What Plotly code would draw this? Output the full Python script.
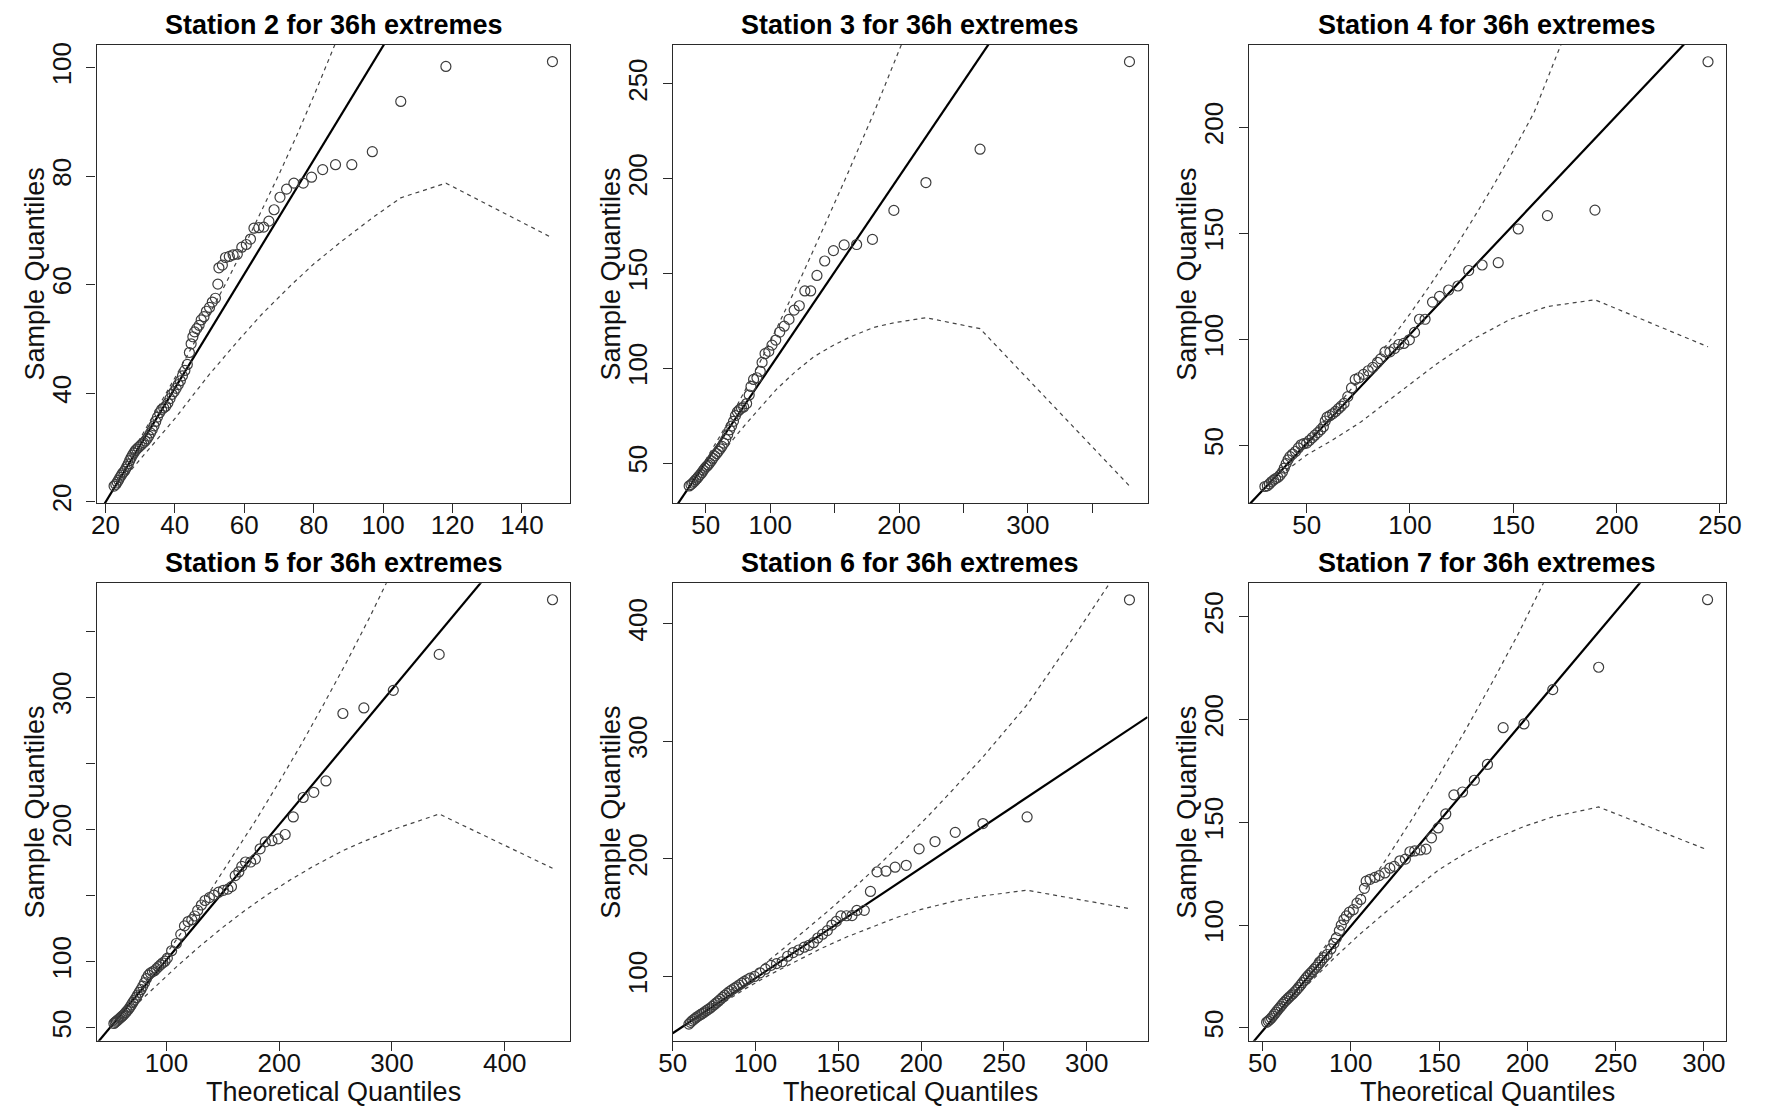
import plotly.graph_objects as go

W, H = 1775, 1119

# ---------------- Data ----------------
# Station 2
s2_theo = [22.5, 23.0, 23.4, 23.8, 24.2, 24.6, 25.0, 25.4, 25.8, 26.2, 26.6, 27.0, 27.4, 27.8, 28.2, 28.6,
           29.0, 29.5, 30.0, 30.5, 31.0, 31.5, 32.0, 32.5, 33.0, 33.5, 34.0, 34.5, 35.0, 35.6, 36.2, 36.8,
           37.4, 38.0, 38.6, 39.2, 39.8, 40.4, 41.0, 41.6, 42.2, 42.9,
           43.6, 44.2, 44.7, 45.2, 45.7, 46.3, 47.0, 47.6, 48.4, 49.1, 50.0, 50.8, 51.7, 52.4, 52.7, 53.7,
           54.6, 55.7, 56.8, 58.0, 59.3, 60.6, 61.8, 62.8, 64.2, 65.6, 67.1, 68.6, 70.3, 72.2, 74.3, 77.0,
           79.4, 82.6, 86.3, 91.0, 96.9, 105.1, 118.1, 148.8]
s2_samp = [22.9, 23.2, 23.6, 24.0, 24.5, 24.9, 25.3, 25.6, 26.0, 26.5, 27.0, 27.6, 28.1, 28.6, 29.0, 29.4,
           29.7, 30.0, 30.3, 30.6, 30.9, 31.2, 31.6, 32.1, 32.7, 33.3, 34.0, 34.8, 35.6, 36.4, 37.0, 37.3,
           37.6, 38.2, 39.0, 39.8, 40.3, 40.9, 41.6, 42.3, 43.2, 44.2,
           45.3, 47.5, 49.1, 50.4, 51.3, 51.9, 52.5, 53.5, 54.1, 55.1, 55.8, 56.8, 57.5, 60.1, 63.1, 63.6,
           65.0, 65.2, 65.5, 65.6, 66.9, 67.4, 68.4, 70.4, 70.5, 70.6, 71.7, 73.8, 76.1, 77.6, 78.7, 78.7,
           79.8, 81.2, 82.1, 82.1, 84.5, 93.75, 100.2, 101.1]
s2_line = [-1.13, 1.051]
s2_up_x = [26, 30, 35, 40, 45, 50, 55, 60, 65, 70, 75, 80, 86.3, 91]
s2_up_y = [27.2, 31.6, 37.2, 42.8, 48.6, 54.5, 60.6, 67.0, 73.5, 80.3, 87.3, 94.7, 104.5, 112]
s2_lo_x = [26, 30, 35, 40, 45.7, 50, 58.4, 65, 73.3, 80, 88.1, 96.9, 105.1, 118.1, 148.8]
s2_lo_y = [24.8, 27.8, 31.5, 35.3, 40.0, 43.5, 49.8, 54.5, 59.8, 63.8, 68.0, 72.3, 76.0, 78.7, 68.6]
s2_xrange = [17.46, 153.98]
s2_yrange = [19.77, 104.23]
s2_xticks = [20, 40, 60, 80, 100, 120, 140]
s2_xtext = ["20", "40", "60", "80", "100", "120", "140"]
s2_yticks = [20, 40, 60, 80, 100]
s2_ytext = ["20", "40", "60", "80", "100"]

# Station 3
s3_theo = [37.1, 38.5, 39.8, 41.0, 42.2, 43.4, 44.6, 45.8, 47.0, 48.2, 49.4, 50.6, 51.8, 53.0, 54.3, 55.6,
           57.0, 58.4, 59.8, 61.2, 62.6, 64.0, 65.5, 67.0, 68.5, 70.0, 71.5, 73.0, 74.5, 76.0, 77.7, 79.4,
           81.7, 83.7, 85.1, 87.1, 89.7, 92.3, 93.7, 96.0, 98.9, 101.4, 104.3, 107.4, 110.9, 114.6, 118.6,
           122.6, 126.9, 131.4, 136.3, 142.3, 149.1, 157.4, 167.1, 179.4, 196.0, 220.9, 262.9, 378.9]
s3_samp = [37.9, 38.6, 39.4, 40.3, 41.2, 42.0, 43.0, 44.0, 45.0, 46.2, 47.3, 48.2, 49.0, 50.0, 51.2, 52.5,
           53.8, 55.0, 56.2, 57.5, 58.8, 60.5, 62.5, 65.0, 67.5, 69.5, 72.0, 75.0, 77.0, 78.0, 79.0, 79.6,
           81.4, 85.9, 90.4, 94.1, 95.0, 98.4, 103.1, 107.7, 108.9, 112.2, 114.9, 119.1, 122.2, 125.8, 130.7,
           133.0, 140.8, 140.8, 149.0, 156.6, 162.1, 165.1, 165.3, 168.0, 183.3, 198.0, 215.6, 261.8]
s3_line = [0.06, 1.005]
s3_up_x = [40, 50, 60, 70, 80, 90, 100, 110, 125, 140, 160, 180, 197, 221]
s3_up_y = [40.5, 51.5, 63, 75, 87.5, 100.5, 114, 128, 149.5, 172, 202.5, 234, 262, 303]
s3_lo_x = [42, 50, 60, 76.6, 90, 105, 120, 133.7, 150, 162, 180, 196, 220.9, 262.9, 378.9]
s3_lo_y = [40, 45.5, 53, 67, 77.5, 89, 98.5, 106, 112.5, 116.5, 121.5, 124, 126.7, 120.9, 37.9]
s3_xrange = [24.3, 392.9]
s3_yrange = [28.9, 270.8]
s3_xticks = [50, 100, 150, 200, 250, 300, 350]
s3_xtext = ["50", "100", "", "200", "", "300", ""]
s3_yticks = [50, 100, 150, 200, 250]
s3_ytext = ["50", "100", "150", "200", "250"]

# Station 4
s4_theo = [29.8, 31.0, 32.0, 33.0, 34.0, 35.0, 36.1, 37.2, 38.3, 39.2, 40.1, 41.0, 41.9, 43.2, 44.6, 46.0,
           47.3, 48.6, 50.0, 51.3, 52.7, 54.0, 55.4, 56.8, 58.1, 59.0, 59.9, 61.2, 62.6, 64.0, 65.4, 66.7,
           68.1, 69.9, 71.7, 73.5, 75.3, 77.5, 79.8, 82.0, 84.3, 85.8, 87.9, 90.3, 92.5, 94.6, 97.0, 99.7,
           102.2, 104.6, 107.3, 110.9, 114.3, 118.7, 123.2, 128.4, 134.9, 142.7, 152.4, 166.5, 189.5, 244.2]
s4_samp = [30.6, 30.9, 31.8, 32.8, 33.6, 34.3, 34.9, 36.0, 37.4, 39.3, 41.4, 43.2, 44.7, 45.9, 47.1, 48.8,
           50.3, 50.8, 51.1, 52.3, 53.6, 54.8, 56.0, 57.4, 58.8, 61.5, 63.3, 64.0, 64.9, 66.0, 67.3, 68.5,
           69.8, 73.0, 77.1, 81.1, 81.9, 83.5, 85.2, 86.8, 89.2, 90.8, 94.1, 94.1, 95.7, 97.6, 98.1, 99.8,
           103.3, 109.5, 109.5, 117.6, 120.3, 123.3, 125.2, 132.5, 135.1, 136.2, 152.1, 158.4, 161.0, 231.0]
s4_line = [-0.83, 1.032]
s4_up_x = [40, 50, 60, 70, 80, 90, 100, 110, 120, 130, 140, 150, 160, 173, 190]
s4_up_y = [41, 51.5, 63, 74.5, 86.5, 99, 112, 126, 140.5, 156, 172, 189, 207, 239, 284]
s4_lo_x = [40, 50, 61.7, 76.2, 94.3, 112.3, 130.4, 148.5, 166.5, 189.5, 244.2]
s4_lo_y = [38, 45.5, 52, 61, 74.6, 88, 100, 109.5, 115.5, 118.7, 96.5]
s4_xrange = [22.0, 252.7]
s4_yrange = [22.8, 239.1]
s4_xticks = [50, 100, 150, 200, 250]
s4_xtext = ["50", "100", "150", "200", "250"]
s4_yticks = [50, 100, 150, 200]
s4_ytext = ["50", "100", "150", "200"]

# Station 5
s5_theo = [53.4, 54.5, 55.6, 56.7, 57.8, 59.0, 60.2, 61.4, 62.6, 63.8, 65.0, 66.3, 67.6, 68.9, 70.2, 71.6,
           73.0, 74.4, 75.9, 77.4, 79.0, 80.6, 82.3, 84.0, 85.8, 87.6, 89.4, 91.2, 93.0, 94.9, 96.8, 98.8,
           100.8, 104.6, 108.8, 112.7, 116.0, 119.2, 122.5, 125.1, 127.7, 131.0, 134.2, 138.1, 142.1, 146.3,
           150.5, 154.5, 157.7, 161.0, 164.2, 166.8, 170.1, 174.7, 178.9, 183.1, 187.7, 193.6, 199.1, 205.3,
           212.5, 221.3, 230.7, 241.5, 256.5, 275.1, 301.2, 341.9, 442.4]
s5_samp = [53.3, 54.2, 55.0, 55.8, 56.6, 57.5, 58.4, 59.3, 60.4, 61.5, 62.7, 64.0, 65.6, 67.3, 69.2, 71.0,
           72.8, 74.8, 76.9, 79.0, 81.5, 84.2, 87.3, 89.9, 91.5, 92.4, 93.2, 94.8, 96.3, 97.8, 99.2, 100.4,
           102.7, 108.3, 113.8, 120.7, 127.1, 130.4, 131.8, 134.6, 138.8, 142.9, 146.3, 148.5, 150.4, 152.6,
           154.0, 154.9, 156.8, 165.1, 167.9, 172.1, 175.4, 175.4, 177.6, 185.4, 190.6, 191.5, 192.9, 196.2,
           209.5, 224.2, 228.1, 236.7, 287.7, 291.9, 305.2, 332.4, 373.7]
s5_line = [-0.9, 1.0228]
s5_up_x = [60, 80, 100, 120, 140, 160, 180, 200, 220, 240, 260, 280, 300, 342]
s5_up_y = [61, 83, 106, 130, 155, 181, 208, 236, 265, 295.5, 327, 360, 395, 480]
s5_lo_x = [55, 70, 90, 110, 130, 150, 170, 190, 210, 230, 256.5, 275.1, 301.2, 341.9, 442.4]
s5_lo_y = [53, 65, 81, 97, 112, 126, 139, 151, 162, 172, 184, 191, 200, 211.7, 170.7]
s5_xrange = [38.05, 458.3]
s5_yrange = [40.3, 386.2]
s5_xticks = [100, 200, 300, 400]
s5_xtext = ["100", "200", "300", "400"]
s5_yticks = [50, 100, 150, 200, 250, 300, 350]
s5_ytext = ["50", "100", "", "200", "", "300", ""]

# Station 6
s6_theo = [59.8, 60.8, 61.8, 62.8, 63.8, 64.8, 65.9, 67.0, 68.1, 69.2, 70.3, 71.5, 72.7, 73.9, 75.1, 76.3,
           77.6, 78.9, 80.2, 81.5, 82.9, 84.3, 85.7, 87.1, 88.6, 90.1, 91.7, 93.3, 95.0, 96.7,
           99.4, 102.7, 106.0, 109.4, 112.7, 116.1, 119.4, 122.7, 126.1, 129.4, 132.3, 135.0, 137.6, 140.5,
           143.4, 146.1, 148.8, 151.6, 155.0, 158.3, 161.2, 165.7, 169.4, 173.4, 178.8, 184.3, 191.0, 198.8,
           208.4, 220.6, 237.3, 264.0, 325.8]
s6_samp = [59.5, 61.0, 62.3, 63.5, 64.6, 65.7, 66.7, 67.7, 68.7, 69.8, 70.9, 72.0, 73.2, 74.6, 76.0, 77.5,
           79.0, 80.6, 82.3, 84.0, 85.6, 87.2, 88.6, 89.9, 91.2, 92.7, 94.3, 95.8, 97.2, 98.6,
           100.0, 103.1, 106.2, 109.4, 110.9, 112.5, 117.2, 120.3, 122.5, 124.9, 126.5, 128.7, 132.7, 135.9,
           139.0, 143.7, 146.8, 151.5, 151.6, 151.8, 156.1, 156.2, 172.3, 188.9, 189.5, 192.9, 194.5, 208.5,
           214.7, 222.5, 230.0, 235.6, 420.2]
s6_line = [4.82, 0.9376]
s6_up_x = [70, 85, 100, 115, 130, 145, 160, 175, 190, 205, 220, 237, 264, 290, 326]
s6_up_y = [72, 88, 104.5, 121.5, 139, 157, 176, 195.5, 216, 237.5, 260, 286, 331, 384, 460]
s6_lo_x = [65, 80, 95, 110, 125, 140, 155, 170, 185, 200, 220, 237.3, 264.0, 325.8]
s6_lo_y = [64, 77.5, 90.5, 102.5, 113.5, 124, 133.5, 142, 150, 157, 164, 168.5, 173.3, 157.7]
s6_xrange = [50.0, 336.7]
s6_yrange = [45.4, 434.3]
s6_xticks = [50, 100, 150, 200, 250, 300]
s6_xtext = ["50", "100", "150", "200", "250", "300"]
s6_yticks = [100, 200, 300, 400]
s6_ytext = ["100", "200", "300", "400"]

# Station 7
s7_theo = [52.3, 53.2, 54.1, 55.0, 55.9, 56.8, 57.7, 58.6, 59.5, 60.4, 61.3, 62.2, 63.2, 64.2, 65.2, 66.2,
           67.2, 68.2, 69.3, 70.4, 71.5, 72.6, 73.7, 74.8, 75.9, 77.0, 78.1, 79.2, 80.3, 81.4, 82.5, 83.6,
           84.8, 86.6, 88.7, 90.4, 91.8, 93.5, 94.6, 96.1, 97.5, 99.2, 101.4, 103.5, 105.6, 107.7, 108.7,
           110.9, 113.6, 116.1, 119.3, 122.1, 124.6, 127.8, 130.9, 133.5, 136.2, 139.4, 142.6, 145.7, 149.5,
           153.8, 158.4, 163.3, 170.0, 177.4, 186.3, 198.1, 214.4, 240.4, 302.1]
s7_samp = [52.7, 53.3, 54.0, 54.8, 55.7, 56.7, 57.7, 58.7, 59.6, 60.5, 61.5, 62.4, 63.3, 64.2, 65.0, 65.8,
           66.6, 67.5, 68.5, 69.6, 70.8, 72.0, 73.2, 74.4, 75.5, 76.5, 77.4, 78.4, 79.5, 80.6, 81.8, 83.0,
           84.2, 85.7, 88.4, 91.1, 93.75, 97.3, 100.0, 102.7, 104.5, 106.3, 107.5, 110.7, 112.5, 117.9, 121.4,
           122.3, 123.2, 124.1, 125.4, 127.7, 128.6, 131.3, 132.1, 135.7, 136.1, 136.6, 137.0, 142.5, 147.3,
           154.1, 163.4, 164.8, 170.5, 178.2, 196.1, 197.9, 214.6, 225.5, 258.4]
s7_line = [-2.51, 1.020]
s7_up_x = [60, 75, 90, 105, 120, 135, 150, 165, 180, 195, 210, 240]
s7_up_y = [61, 77.5, 95, 113, 132, 152, 173, 195, 218, 242, 268, 322]
s7_lo_x = [60, 75, 90, 105, 120, 135, 150, 165, 180, 198.1, 214.4, 240.4, 302.1]
s7_lo_y = [57.5, 70.5, 83.5, 95.5, 106.5, 117, 127, 135, 141.5, 148, 152.7, 157.5, 136.6]
s7_xrange = [42.2, 312.3]
s7_yrange = [43.75, 266.4]
s7_xticks = [50, 100, 150, 200, 250, 300]
s7_xtext = ["50", "100", "150", "200", "250", "300"]
s7_yticks = [50, 100, 150, 200, 250]
s7_ytext = ["50", "100", "150", "200", "250"]

titles = ["Station 2 for 36h extremes", "Station 3 for 36h extremes", "Station 4 for 36h extremes",
          "Station 5 for 36h extremes", "Station 6 for 36h extremes", "Station 7 for 36h extremes"]

panels = [
    (s2_theo, s2_samp, s2_line, s2_up_x, s2_up_y, s2_lo_x, s2_lo_y, s2_xrange, s2_yrange, s2_xticks, s2_xtext, s2_yticks, s2_ytext),
    (s3_theo, s3_samp, s3_line, s3_up_x, s3_up_y, s3_lo_x, s3_lo_y, s3_xrange, s3_yrange, s3_xticks, s3_xtext, s3_yticks, s3_ytext),
    (s4_theo, s4_samp, s4_line, s4_up_x, s4_up_y, s4_lo_x, s4_lo_y, s4_xrange, s4_yrange, s4_xticks, s4_xtext, s4_yticks, s4_ytext),
    (s5_theo, s5_samp, s5_line, s5_up_x, s5_up_y, s5_lo_x, s5_lo_y, s5_xrange, s5_yrange, s5_xticks, s5_xtext, s5_yticks, s5_ytext),
    (s6_theo, s6_samp, s6_line, s6_up_x, s6_up_y, s6_lo_x, s6_lo_y, s6_xrange, s6_yrange, s6_xticks, s6_xtext, s6_yticks, s6_ytext),
    (s7_theo, s7_samp, s7_line, s7_up_x, s7_up_y, s7_lo_x, s7_lo_y, s7_xrange, s7_yrange, s7_xticks, s7_xtext, s7_yticks, s7_ytext),
]

# Layout geometry in page pixels (the page's body margin is removed below)
col_x = [(84, 566), (670, 1153), (1256, 1741)]
row_y = [(43, 506), (587, 1049)]
title_y = [23, 567]
xlabel_y = 1101


def px_x(v):
    return v / W


def px_y(v):
    return 1 - v / H


FONT = "Liberation Sans, Arial, Helvetica, sans-serif"
AX_COLOR = "#2a2a2a"

fig = go.Figure()
annotations = []

for i, p in enumerate(panels):
    theo, samp, line, upx, upy, lox, loy, xr, yr, xt, xtt, yt, ytt = p
    r, c = divmod(i, 3)
    x0, x1 = col_x[c]
    y0, y1 = row_y[r]
    n = i + 1
    xa = "x" if n == 1 else f"x{n}"
    ya = "y" if n == 1 else f"y{n}"

    for ex, ey in ((upx, upy), (lox, loy)):
        fig.add_trace(go.Scatter(x=ex, y=ey, mode="lines", xaxis=xa, yaxis=ya,
                                 line=dict(color="#444444", width=1.2, dash="4px,4px"),
                                 showlegend=False, hoverinfo="skip"))
    a, b = line
    fig.add_trace(go.Scatter(x=[xr[0], xr[1]], y=[a + b * xr[0], a + b * xr[1]], mode="lines",
                             xaxis=xa, yaxis=ya, line=dict(color="#000000", width=2.2),
                             showlegend=False, hoverinfo="skip"))
    fig.add_trace(go.Scatter(x=theo, y=samp, mode="markers", xaxis=xa, yaxis=ya,
                             marker=dict(symbol="circle-open", size=10, color="#3d3d3d",
                                         line=dict(width=1.2, color="#3d3d3d")),
                             showlegend=False))

    axkw = dict(showline=True, mirror=True, linecolor=AX_COLOR, linewidth=1.3,
                ticks="outside", ticklen=9, tickwidth=1.3, tickcolor=AX_COLOR,
                showgrid=False, zeroline=False,
                tickfont=dict(family=FONT, size=26, color="#111111"))
    xkey = "xaxis" if n == 1 else f"xaxis{n}"
    ykey = "yaxis" if n == 1 else f"yaxis{n}"
    fig.update_layout(**{
        xkey: dict(domain=[px_x(x0), px_x(x1)], range=xr, anchor=ya, tickvals=xt, ticktext=xtt,
                   ticklabelstandoff=-10, **axkw),
        ykey: dict(domain=[px_y(y1), px_y(y0)], range=yr, anchor=xa, tickvals=yt, ticktext=ytt,
                   tickangle=-90, ticklabelstandoff=5, **axkw),
    })

    annotations.append(dict(text="<b>" + titles[i] + "</b>", xref="paper", yref="paper",
                            x=px_x((x0 + x1) / 2), y=px_y(title_y[r]), showarrow=False,
                            xanchor="center", yanchor="middle",
                            font=dict(family=FONT, size=27, color="#000000")))
    annotations.append(dict(text="Sample Quantiles", xref="paper", yref="paper",
                            x=px_x(x0 - 63), y=px_y((y0 + y1) / 2), showarrow=False,
                            textangle=-90, xanchor="center", yanchor="middle",
                            font=dict(family=FONT, size=27, color="#111111")))
    if r == 1:
        annotations.append(dict(text="Theoretical Quantiles", xref="paper", yref="paper",
                                x=px_x((x0 + x1) / 2), y=px_y(xlabel_y), showarrow=False,
                                xanchor="center", yanchor="middle",
                                font=dict(family=FONT, size=27, color="#111111")))

fig.update_layout(width=W, height=H, margin=dict(l=0, r=0, t=0, b=0),
                  paper_bgcolor="white", plot_bgcolor="white",
                  annotations=annotations, showlegend=False)

fig.write_html("out.html", config={"displayModeBar": False},
               post_script="document.body.style.margin='0';"
                           "document.documentElement.style.overflow='hidden';")
